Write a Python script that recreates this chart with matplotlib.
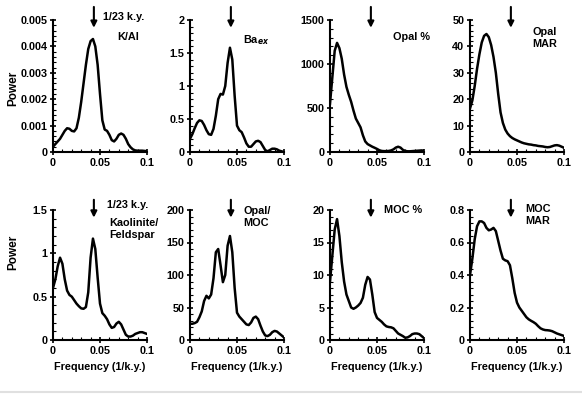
import matplotlib
matplotlib.use('Agg')
import matplotlib.pyplot as plt
from matplotlib.ticker import AutoMinorLocator, MultipleLocator, FuncFormatter
from matplotlib.lines import Line2D

plt.rcParams['font.family'] = ['Liberation Sans', 'DejaVu Sans']
plt.rcParams['font.weight'] = 'bold'
plt.rcParams['mathtext.default'] = 'regular'

# frequency grid (1/k.y.)
freq = [i * 0.0025 for i in range(41)]

kal = [0.0002, 0.0003, 0.0004, 0.0005, 0.00065, 0.0008, 0.0009, 0.00088, 0.0008, 0.00078,
       0.0009, 0.0013, 0.0019, 0.0026, 0.0033, 0.0039, 0.0042, 0.00428, 0.004, 0.0033,
       0.0022, 0.0012, 0.00085, 0.0008, 0.00065, 0.00045, 0.0004, 0.0005, 0.00065, 0.0007,
       0.00065, 0.0005, 0.0003, 0.00018, 0.0001, 0.00006, 0.00005, 0.00005, 0.00005, 0.00004,
       0.00003]
ba_ex = [0.2, 0.27, 0.36, 0.44, 0.48, 0.47, 0.41, 0.33, 0.27, 0.26,
         0.35, 0.55, 0.8, 0.88, 0.87, 1.0, 1.35, 1.58, 1.4, 0.85,
         0.4, 0.33, 0.3, 0.22, 0.13, 0.08, 0.08, 0.12, 0.16, 0.17,
         0.15, 0.09, 0.03, 0.01, 0.03, 0.05, 0.05, 0.04, 0.02, 0.01,
         0.0]
opal_pct = [550, 850, 1150, 1240, 1180, 1060, 880, 740, 650, 570,
            470, 380, 330, 280, 190, 120, 90, 75, 60, 48,
            35, 20, 12, 10, 10, 12, 18, 30, 50, 60,
            50, 25, 12, 8, 8, 10, 12, 14, 16, 18,
            15]
opal_mar = [16.5, 19.5, 25, 31.5, 37, 41.5, 44, 44.7, 43.5, 40.5,
            36, 30, 22, 15, 11, 8.5, 7, 6, 5.3, 4.8,
            4.4, 4, 3.6, 3.3, 3.1, 2.9, 2.8, 2.6, 2.5, 2.3,
            2.2, 2.1, 1.9, 1.8, 1.9, 2.2, 2.5, 2.6, 2.4, 2.0,
            1.6]
kao_feld = [0.6, 0.7, 0.85, 0.95, 0.88, 0.7, 0.57, 0.52, 0.5, 0.46,
            0.42, 0.39, 0.365, 0.36, 0.38, 0.55, 0.95, 1.17, 1.05, 0.72,
            0.42, 0.31, 0.28, 0.24, 0.18, 0.14, 0.15, 0.19, 0.21, 0.18,
            0.12, 0.06, 0.04, 0.04, 0.05, 0.07, 0.08, 0.09, 0.09, 0.08,
            0.07]
opal_moc = [25, 25, 26, 28, 35, 44, 60, 68, 64, 70,
            95, 135, 140, 115, 89, 100, 145, 160, 135, 80,
            42, 36, 32, 28, 24, 23, 27, 34, 36, 32,
            22, 13, 7, 6, 8, 12, 14, 13, 10, 7,
            4]
moc_pct = [9, 13, 17, 18.6, 16, 12, 9, 7, 6, 5,
           4.8, 5, 5.3, 5.7, 6.5, 8.5, 9.7, 9.3, 7, 4.3,
           3.4, 3.1, 2.8, 2.4, 2.1, 2.0, 1.95, 1.8, 1.4, 1.0,
           0.8, 0.6, 0.35, 0.4, 0.6, 0.9, 1.0, 1.0, 0.9, 0.6,
           0.3]
moc_mar = [0.40, 0.50, 0.62, 0.70, 0.73, 0.73, 0.72, 0.69, 0.675, 0.68,
           0.69, 0.67, 0.61, 0.55, 0.50, 0.49, 0.485, 0.46, 0.38, 0.29,
           0.23, 0.20, 0.18, 0.16, 0.14, 0.127, 0.118, 0.11, 0.10, 0.085,
           0.072, 0.065, 0.061, 0.06, 0.058, 0.054, 0.047, 0.04, 0.035, 0.03,
           0.025]

series = [kal, ba_ex, opal_pct, opal_mar, kao_feld, opal_moc, moc_pct, moc_mar]
ymax = [0.005, 2, 1500, 50, 1.5, 200, 20, 0.8]
ystep = [0.001, 0.5, 500, 10, 0.5, 50, 5, 0.2]
labels = ['K/Al', 'Ba$_{\\mathit{ex}}$', 'Opal %', 'Opal\nMAR',
          'Kaolinite/\nFeldspar', 'Opal/\nMOC', 'MOC %', 'MOC\nMAR']
label_pos = [(0.80, 0.87, 'center'), (0.56, 0.85, 'left'), (0.67, 0.87, 'left'), (0.66, 0.86, 'left'),
             (0.60, 0.85, 'left'), (0.57, 0.95, 'left'), (0.57, 1.0, 'left'), (0.59, 0.96, 'left')]

fig = plt.figure(figsize=(5.82, 3.96), dpi=100)
lefts = [53, 190, 330, 470]
W, H = 582, 396

for i, y in enumerate(series):
    row, col = divmod(i, 4)
    if row == 0:
        top, bot = 20, 152
    else:
        top, bot = 210, 340
    ax = fig.add_axes([lefts[col] / W, 1 - bot / H, 94 / W, (bot - top) / H])
    ax.plot(freq, y, color='black', lw=1.8, solid_joinstyle='round')
    ax.set_xlim(0, 0.1)
    ax.set_ylim(0, ymax[i])
    ax.xaxis.set_major_locator(MultipleLocator(0.05))
    ax.xaxis.set_minor_locator(MultipleLocator(0.01))
    ax.yaxis.set_major_locator(MultipleLocator(ystep[i]))
    ax.yaxis.set_minor_locator(AutoMinorLocator(5))
    fmt = FuncFormatter(lambda v, p: f'{v:g}')
    ax.xaxis.set_major_formatter(fmt)
    ax.yaxis.set_major_formatter(fmt)
    for s in ['top', 'right']:
        ax.spines[s].set_visible(False)
    for s in ['left', 'bottom']:
        ax.spines[s].set_linewidth(1.5)
    ax.tick_params(which='major', direction='inout', length=4, width=1.2, labelsize=7.8, pad=2)
    ax.tick_params(which='minor', direction='in', length=2, width=0.8)
    for t in ax.get_xticklabels() + ax.get_yticklabels():
        t.set_fontweight('bold')

    # 1/23 k.y. arrow
    ytop = 1.12 if row == 0 else 1.1
    ax.annotate('', xy=(1 / 23, 0.92), xytext=(1 / 23, ytop),
                xycoords=('data', 'axes fraction'), textcoords=('data', 'axes fraction'),
                arrowprops=dict(arrowstyle='-|>', color='black', lw=1.5, mutation_scale=9),
                annotation_clip=False)

    lx, ly, ha = label_pos[i]
    ax.text(lx, ly, labels[i], transform=ax.transAxes, fontsize=7.8, fontweight='bold',
            ha=ha, va='center', linespacing=1.25)

    if col == 0:
        ax.text(0.53 if row == 0 else 0.57, 1.02 if row == 0 else 1.04, '1/23 k.y.',
                transform=ax.transAxes, fontsize=7.8, fontweight='bold', ha='left', va='center')
    if row == 1:
        ax.text(0.5, -0.21, 'Frequency (1/k.y.)', transform=ax.transAxes, fontsize=7.8,
                fontweight='bold', ha='center', va='center')

fig.text(13 / W, 1 - 88 / H, 'Power', rotation=90, fontsize=8.5, fontweight='bold',
         ha='center', va='center')
fig.text(13 / W, 1 - 252 / H, 'Power', rotation=90, fontsize=8.5, fontweight='bold',
         ha='center', va='center')

fig.add_artist(Line2D([0, 1], [1 - 392 / H, 1 - 392 / H], transform=fig.transFigure,
                      color='#e0e0e0', lw=1.5))

fig.savefig('out.png', dpi=100)
